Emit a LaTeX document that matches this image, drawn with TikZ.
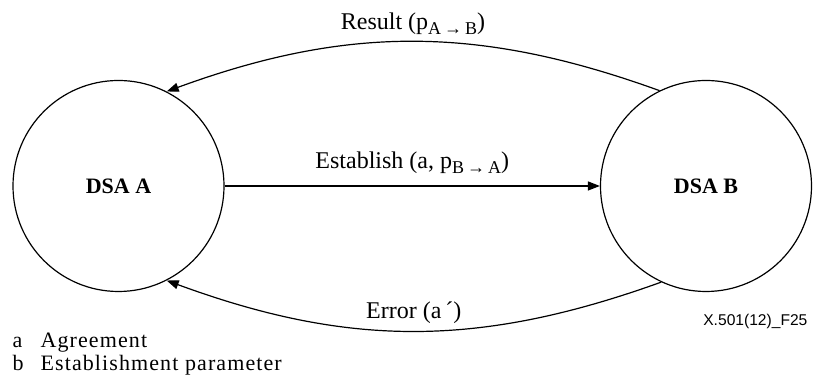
\documentclass[tikz,border=0pt]{standalone}
\usepackage{fontspec}
\setmainfont{Liberation Serif}
\setsansfont{Liberation Sans}
\newfontfamily\notefont[LetterSpace=5]{Liberation Serif}
\usetikzlibrary{arrows.meta}
\newcommand{\lowidx}[1]{\raisebox{-2.5pt}{\fontsize{9}{9}\selectfont #1}}

\begin{document}
\begin{tikzpicture}[x=0.5pt, y=0.5pt, font=\fontsize{12}{14}\selectfont, >={Triangle[length=6pt, width=4.5pt]}, line width=0.6pt]
    \tikzstyle{dsa}=[draw, circle, minimum size=105.5pt, inner sep=0pt, font=\fontsize{11}{13}\selectfont\bfseries]
    \tikzstyle{note}=[anchor=base west, inner sep=0pt, font=\notefont\fontsize{11}{13}\selectfont]
    \useasboundingbox (0,0) rectangle (814,378);
    \node[dsa] (dsaA) at (118.5,192) {DSA A};
    \node[dsa] (dsaB) at (706,192) {DSA B};
    \draw[->] (dsaA) -- node[midway, above, yshift=2.5pt] (estlbl) {Establish (a, p\lowidx{B\,→\,A})} (dsaB);
    \draw[->] (dsaB.116) to[bend right=20] node[midway, above] (reslbl) {Result (p\lowidx{A\,→\,B})} (dsaA.63);
    \draw[->] (dsaB.-115) to[bend left=20] node[midway, above] (errlbl) {Error (a\,´)} (dsaA.-63);
    \node[note] (noteA) at (12,30) {\makebox[14pt][l]{a}Agreement};
    \node[note] (noteB) at (12,7) {\makebox[14pt][l]{b}Establishment parameter};
    \node[anchor=base east, inner sep=0pt, font=\sffamily\fontsize{7.8}{9}\selectfont] (figid) at (808,52) {X.501(12)\_F25};
\end{tikzpicture}
\end{document}
